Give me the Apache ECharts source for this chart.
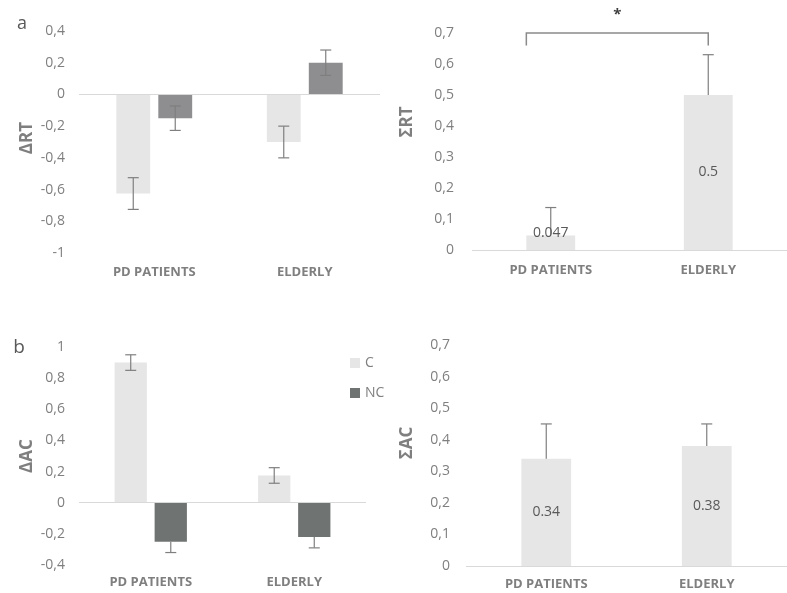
<!DOCTYPE html>
<html>
<head>
<meta charset="utf-8">
<script src="https://cdn.jsdelivr.net/npm/echarts@6/dist/echarts.min.js"></script>
<style>
  html, body {margin: 0; padding: 0; background: #fff;}
  #chart {width: 787px; height: 593px;}
</style>
</head>
<body>
<div id="chart"></div>
<script>
// values
const categories = ["PD PATIENTS", "ELDERLY"];

const deltaRtC = [-0.625, -0.3];
const deltaRtCErr = [0.1, 0.1];
const deltaRtNC = [-0.15, 0.2];
const deltaRtNCErr = [0.077, 0.08];

const sumRt = [0.047, 0.5];
const sumRtErr = [0.09, 0.13];

const deltaAcC = [0.9, 0.175];
const deltaAcCErr = [0.05, 0.05];
const deltaAcNC = [-0.25, -0.22];
const deltaAcNCErr = [0.07, 0.07];

const sumAc = [0.34, 0.38];
const sumAcErr = [0.11, 0.07];

// significance bracket over the ΣRT bars: leg bottom, bar top, star height
const bracket = [0.66, 0.70, 0.76];

const FONT = "Open Sans";
const C_COLOR = "#e6e6e6";
const NC_COLOR_A = "#8e8d8f";
const NC_COLOR_B = "#6f7472";
const TEXT = "#7f7f7f";
const ERR = "#7f7f7f";

const comma = (v) => String(v).replace(".", ",");

const errData = (vals, errs) => vals.map((v, i) => [i, v, errs[i]]);

// mode: "both", "up" or "down"
const errorBars = (offsetFrac, mode) => (params, api) => {
  const idx = api.value(0);
  const v = api.value(1);
  const e = api.value(2);
  const band = api.size([1, 0])[0];
  const x = api.coord([idx, 0])[0] + offsetFrac * band;
  const top = api.coord([idx, mode === "down" ? v : v + e])[1];
  const bot = api.coord([idx, mode === "up" ? v : v - e])[1];
  const hw = 5.5;
  const style = {stroke: ERR, lineWidth: 1.2};
  const children = [{type: "line", shape: {x1: x, y1: top, x2: x, y2: bot}, style}];
  if (mode !== "down") children.push({type: "line", shape: {x1: x - hw, y1: top, x2: x + hw, y2: top}, style});
  if (mode !== "up") children.push({type: "line", shape: {x1: x - hw, y1: bot, x2: x + hw, y2: bot}, style});
  return {type: "group", children};
};

const zeroLine = {
  silent: true,
  symbol: "none",
  label: {show: false},
  lineStyle: {color: "#d9d9d9", width: 1, type: "solid"},
  data: [{yAxis: 0}],
};

const grids = [
  {left: 79, top: 31, width: 301, height: 222},
  {left: 472, top: 33, width: 326, height: 217},
  {left: 79, top: 347, width: 287, height: 218},
  {left: 466, top: 345, width: 330, height: 221},
];

const labelMargins = [13, 14, 11, 12];
const yRanges = [
  {min: -1, max: 0.4, interval: 0.2, margin: 14},
  {min: 0, max: 0.7, interval: 0.1, margin: 18},
  {min: -0.4, max: 1, interval: 0.2, margin: 14},
  {min: 0, max: 0.7, interval: 0.1, margin: 16},
];

const xAxes = grids.map((g, i) => ({
  type: "category",
  gridIndex: i,
  data: categories,
  axisLine: {show: false, onZero: false},
  axisTick: {show: false},
  axisLabel: {margin: labelMargins[i], color: TEXT, fontWeight: "bold", fontSize: 13, fontFamily: FONT},
}));

const yAxes = yRanges.map((r, i) => ({
  type: "value",
  gridIndex: i,
  min: r.min,
  max: r.max,
  interval: r.interval,
  splitLine: {show: false},
  axisLine: {show: false},
  axisTick: {show: false},
  axisLabel: {margin: r.margin, color: TEXT, fontSize: 14, fontFamily: FONT, formatter: comma},
}));

const OFFSET = 0.1395;
const valueLabel = {show: true, position: "inside", color: "#595959", fontSize: 14, fontFamily: FONT};

const series = [
  // a, left: ΔRT
  {name: "C", type: "bar", xAxisIndex: 0, yAxisIndex: 0, data: deltaRtC, barWidth: "22.5%", barGap: "24%",
    itemStyle: {color: C_COLOR}, markLine: zeroLine},
  {name: "NC", type: "bar", xAxisIndex: 0, yAxisIndex: 0, data: deltaRtNC, barWidth: "22.5%", barGap: "24%",
    itemStyle: {color: NC_COLOR_A}},
  {type: "custom", xAxisIndex: 0, yAxisIndex: 0, data: errData(deltaRtC, deltaRtCErr), renderItem: errorBars(-OFFSET, "both"), z: 5},
  {type: "custom", xAxisIndex: 0, yAxisIndex: 0, data: errData(deltaRtNC, deltaRtNCErr), renderItem: errorBars(OFFSET, "both"), z: 5},

  // a, right: ΣRT
  {type: "bar", xAxisIndex: 1, yAxisIndex: 1, barWidth: "31%", itemStyle: {color: C_COLOR}, markLine: zeroLine,
    label: valueLabel,
    data: sumRt.map((v, i) => (i === 0 ? {value: v, label: {position: "top", distance: -5}} : v))},
  {type: "custom", xAxisIndex: 1, yAxisIndex: 1, data: errData(sumRt, sumRtErr), renderItem: errorBars(0, "up"), z: 1},
  {type: "custom", xAxisIndex: 1, yAxisIndex: 1, clip: false, z: 5,
    data: [[0, bracket[0], bracket[1], bracket[2]]],
    renderItem: (params, api) => {
      const band = api.size([1, 0])[0];
      const xl = api.coord([0, 0])[0] - 0.155 * band;
      const xr = api.coord([1, 0])[0];
      const yLeg = api.coord([0, api.value(1)])[1];
      const yTop = api.coord([0, api.value(2)])[1];
      const yStar = api.coord([0, api.value(3)])[1];
      return {
        type: "group",
        children: [
          {type: "polyline", shape: {points: [[xl, yLeg], [xl, yTop], [xr, yTop], [xr, yLeg]]},
            style: {stroke: "#8a8a8a", lineWidth: 1.5, fill: "none"}},
          {type: "text", x: (xl + xr) / 2, y: yStar,
            style: {text: "*", fill: "#404040", font: "bold 15px " + FONT, align: "center", verticalAlign: "middle"}},
        ],
      };
    }},

  // b, left: ΔAC
  {name: "C", type: "bar", xAxisIndex: 2, yAxisIndex: 2, data: deltaAcC, barWidth: "22.5%", barGap: "24%",
    itemStyle: {color: C_COLOR}, markLine: zeroLine},
  {name: "NC", type: "bar", xAxisIndex: 2, yAxisIndex: 2, data: deltaAcNC, barWidth: "22.5%", barGap: "24%",
    itemStyle: {color: NC_COLOR_B}},
  {type: "custom", xAxisIndex: 2, yAxisIndex: 2, data: errData(deltaAcC, deltaAcCErr), renderItem: errorBars(-OFFSET, "both"), z: 5},
  {type: "custom", xAxisIndex: 2, yAxisIndex: 2, data: errData(deltaAcNC, deltaAcNCErr), renderItem: errorBars(OFFSET, "down"), z: 5},

  // b, right: ΣAC
  {type: "bar", xAxisIndex: 3, yAxisIndex: 3, data: sumAc, barWidth: "31%", itemStyle: {color: C_COLOR},
    markLine: zeroLine, label: valueLabel},
  {type: "custom", xAxisIndex: 3, yAxisIndex: 3, data: errData(sumAc, sumAcErr), renderItem: errorBars(0, "up"), z: 5},
];

const axisTitle = (text, x, y) => ({
  type: "text", x, y, rotation: Math.PI / 2,
  style: {text, fill: TEXT, font: "bold 17px " + FONT, align: "center", verticalAlign: "middle"},
});

const option = {
  animation: false,
  backgroundColor: "#fff",
  grid: grids,
  xAxis: xAxes,
  yAxis: yAxes,
  legend: {
    left: 345, top: 351, orient: "vertical", icon: "rect",
    itemWidth: 10, itemHeight: 10, itemGap: 16, selectedMode: false,
    textStyle: {color: TEXT, fontSize: 14, fontFamily: FONT},
    data: [
      {name: "C", itemStyle: {color: C_COLOR}},
      {name: "NC", itemStyle: {color: NC_COLOR_B}},
    ],
  },
  graphic: [
    {type: "text", x: 22, y: 24, style: {text: "a", fill: "#595959", font: "18px " + FONT, align: "center", verticalAlign: "middle"}},
    {type: "text", x: 19, y: 348, style: {text: "b", fill: "#595959", font: "19px " + FONT, align: "center", verticalAlign: "middle"}},
    axisTitle("ΔRT", 27, 138),
    axisTitle("ΣRT", 407, 122),
    axisTitle("ΔAC", 27, 456),
    axisTitle("ΣAC", 407, 443),
  ],
  series,
};

const chart = echarts.init(document.getElementById("chart"));
chart.setOption(option);
</script>
</body>
</html>
